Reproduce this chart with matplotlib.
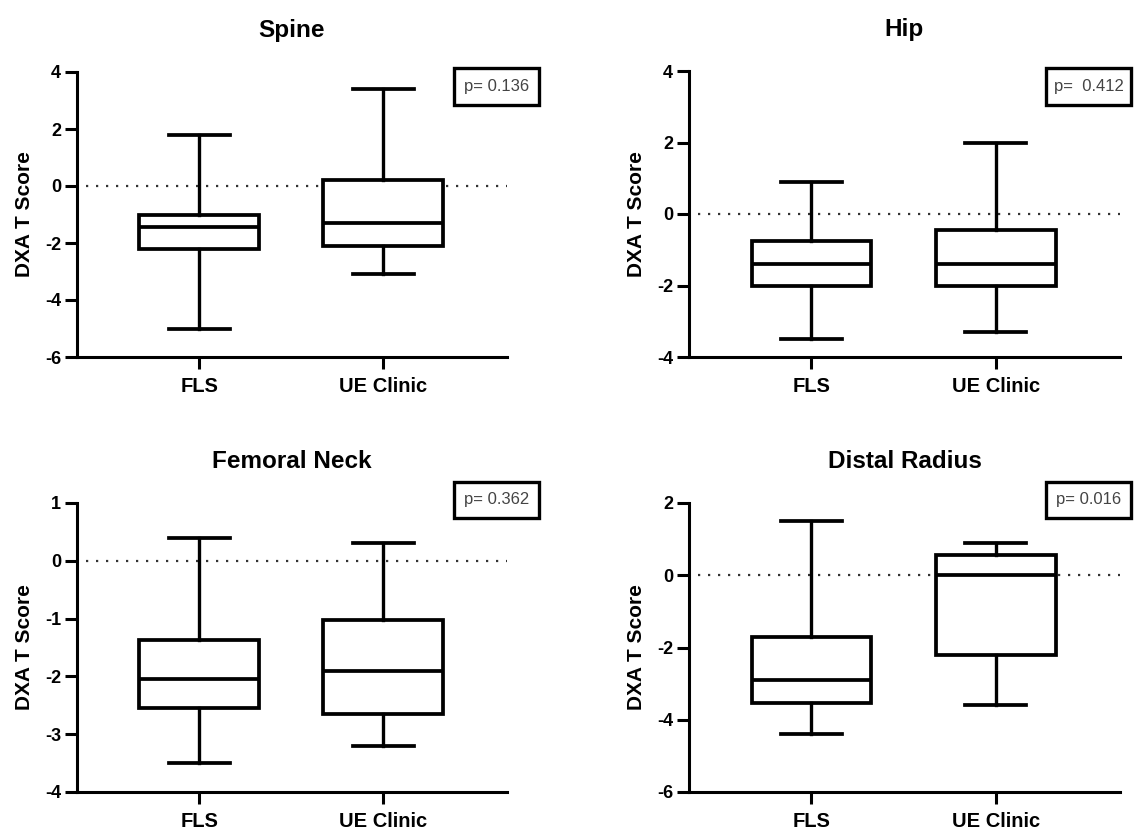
import matplotlib
matplotlib.use("Agg")
import matplotlib.pyplot as plt
from matplotlib.patches import Rectangle
import numpy as np

plt.rcParams['font.family'] = ['Liberation Sans', 'DejaVu Sans']
plt.rcParams['axes.unicode_minus'] = False

groups = ["FLS", "UE Clinic"]
titles = ["Spine", "Hip", "Femoral Neck", "Distal Radius"]

# [whisker low, Q1, median, Q3, whisker high]
spine_fls = [-5.0, -2.2, -1.45, -1.0, 1.8]
spine_ue = [-3.1, -2.1, -1.3, 0.2, 3.4]
hip_fls = [-3.5, -2.0, -1.4, -0.75, 0.9]
hip_ue = [-3.3, -2.0, -1.4, -0.45, 2.0]
neck_fls = [-3.5, -2.55, -2.05, -1.37, 0.4]
neck_ue = [-3.2, -2.65, -1.9, -1.03, 0.3]
radius_fls = [-4.4, -3.55, -2.9, -1.7, 1.5]
radius_ue = [-3.6, -2.2, 0.0, 0.55, 0.9]

p_labels = ["p= 0.136", "p=  0.412", "p= 0.362", "p= 0.016"]
y_ranges = [(-6, 4, 2), (-4, 4, 2), (-4, 1, 1), (-6, 2, 2)]

panel_data = [(spine_fls, spine_ue), (hip_fls, hip_ue),
              (neck_fls, neck_ue), (radius_fls, radius_ue)]

fig = plt.figure(figsize=(11.34, 8.36), dpi=100)
W, H = 1134, 836
# axes boxes in pixels: left, right, top, bottom
boxes = [(77, 507, 72, 357), (689, 1120, 71, 357),
         (77, 507, 503, 792), (689, 1120, 503, 792)]
# p-value box in pixels: left, right, top, bottom
pboxes = [(454, 539, 68, 105), (1046, 1131, 68, 105),
          (454, 539, 482, 518), (1046, 1131, 482, 518)]

for i, (l, r, t, b) in enumerate(boxes):
    ax = fig.add_axes([l / W, 1 - b / H, (r - l) / W, (b - t) / H])
    stats = []
    for vals, name in zip(panel_data[i], groups):
        lo, q1, med, q3, hi = vals
        stats.append(dict(whislo=lo, q1=q1, med=med, q3=q3, whishi=hi,
                          fliers=[], label=name))
    ax.axhline(0, xmin=0.02, color="#333333", lw=1.6,
               linestyle=(0, (1, 3.5)), zorder=1)
    ax.bxp(stats, positions=[1, 2], widths=0.65, showfliers=False,
           patch_artist=True,
           boxprops=dict(facecolor="white", edgecolor="black", linewidth=2.7),
           medianprops=dict(color="black", linewidth=2.7),
           whiskerprops=dict(color="black", linewidth=2.4),
           capprops=dict(color="black", linewidth=2.7),
           capwidths=0.33, zorder=2)
    ymin, ymax, step = y_ranges[i]
    ax.set_ylim(ymin, ymax)
    ax.set_yticks(np.arange(ymin, ymax + 0.01, step))
    ax.set_xlim(0.336, 2.673)
    ax.spines['top'].set_visible(False)
    ax.spines['right'].set_visible(False)
    ax.spines['left'].set_linewidth(2.2)
    ax.spines['bottom'].set_linewidth(2.2)
    ax.tick_params(axis='both', width=2.2, length=8.5)
    ax.tick_params(axis='y', labelsize=13, pad=3)
    ax.tick_params(axis='x', labelsize=14.5, pad=6)
    for lab in ax.get_yticklabels() + ax.get_xticklabels():
        lab.set_fontweight('bold')
    ax.set_ylabel("DXA T Score", fontsize=15, fontweight='bold', labelpad=8)
    ax.set_title(titles[i], fontsize=17.5, fontweight='bold', pad=25)

    pl, pr, pt, pb = pboxes[i]
    x0 = (pl - l) / (r - l)
    y0 = (b - pb) / (b - t)
    pw = (pr - pl) / (r - l)
    ph = (pb - pt) / (b - t)
    ax.add_patch(Rectangle((x0, y0), pw, ph, transform=ax.transAxes,
                           facecolor='white', edgecolor='black', lw=2.4,
                           clip_on=False, zorder=5))
    ax.text(x0 + pw / 2, y0 + ph / 2, p_labels[i], transform=ax.transAxes,
            ha='center', va='center', fontsize=12, color='#444444',
            zorder=6, clip_on=False)

fig.savefig("out.png", dpi=100)
